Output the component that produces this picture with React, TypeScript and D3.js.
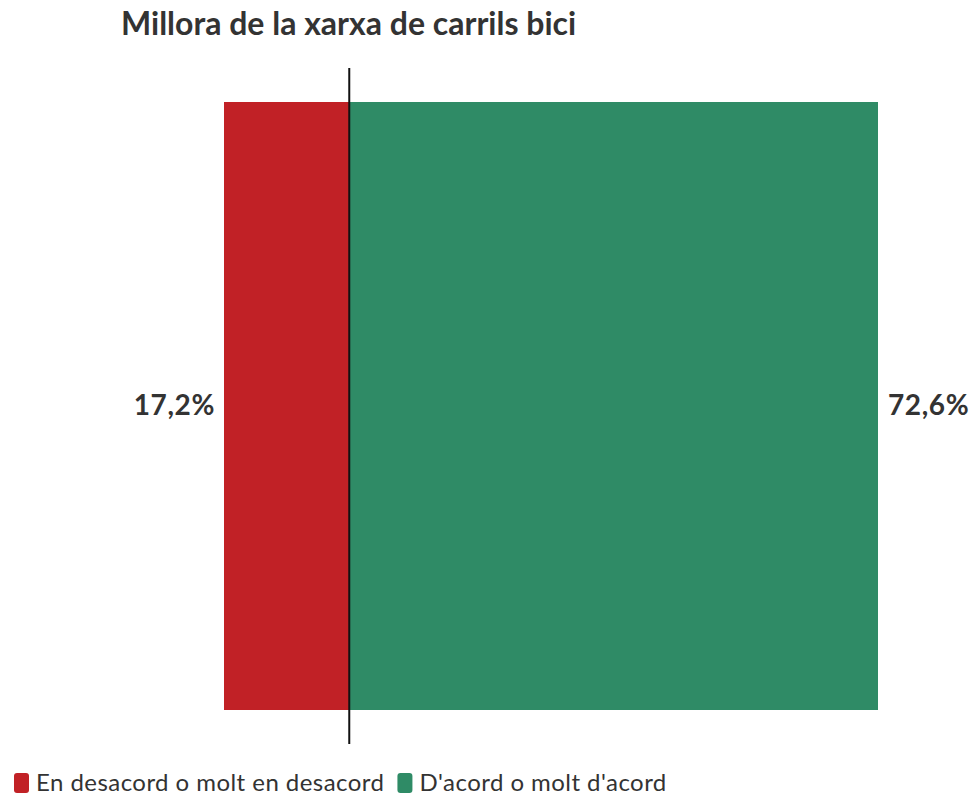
import * as d3 from 'd3';
import { useEffect, useRef } from 'react';

const title = 'Millora de la xarxa de carrils bici';
const categories = ['En desacord o molt en desacord', "D'acord o molt d'acord"];
const values = [17.2, 72.6];
const colors = ['#c12126', '#2f8b66'];

const fmt = (v: number) => v.toFixed(1).replace('.', ',') + '%';

export default function App() {
  const svgRef = useRef<SVGSVGElement>(null);

  useEffect(() => {
    const font = 'Lato, "Noto Sans", sans-serif';

    const svg = d3.select(svgRef.current);
    svg.selectAll('*').remove();

    const x = d3.scaleLinear().domain([-values[0], values[1]]).range([224, 878]);
    const y = d3.scaleBand().domain(['q']).range([102, 710]).padding(0);

    svg
      .append('text')
      .attr('x', 121)
      .attr('y', 35)
      .attr('font-family', font)
      .attr('font-weight', 700)
      .attr('font-size', 32)
      .attr('fill', '#333')
      .text(title);

    const bars = [
      { name: categories[0], x0: -values[0], x1: 0, v: values[0], c: colors[0] },
      { name: categories[1], x0: 0, x1: values[1], v: values[1], c: colors[1] },
    ];

    svg
      .selectAll('.bar')
      .data(bars)
      .enter()
      .append('rect')
      .attr('class', 'bar')
      .attr('x', (d) => x(d.x0))
      .attr('width', (d) => x(d.x1) - x(d.x0))
      .attr('y', y('q') as number)
      .attr('height', y.bandwidth())
      .attr('fill', (d) => d.c);

    const midY = (y('q') as number) + y.bandwidth() / 2;

    svg
      .selectAll('.lbl')
      .data(bars)
      .enter()
      .append('text')
      .attr('class', 'lbl')
      .attr('x', (d, i) => (i === 0 ? x(d.x0) - 9 : x(d.x1) + 10))
      .attr('y', midY - 1)
      .attr('dy', '0.35em')
      .attr('text-anchor', (d, i) => (i === 0 ? 'end' : 'start'))
      .attr('font-family', font)
      .attr('font-weight', 700)
      .attr('font-size', 28)
      .attr('letter-spacing', 0.6)
      .attr('fill', '#333')
      .text((d) => fmt(d.v));

    svg
      .append('line')
      .attr('x1', x(0))
      .attr('x2', x(0))
      .attr('y1', 68)
      .attr('y2', 744)
      .attr('stroke', '#111')
      .attr('stroke-width', 2);

    // legend
    const legend = svg.append('g').attr('transform', 'translate(0,783)');
    let lx = 14;
    bars.forEach((d) => {
      legend
        .append('rect')
        .attr('x', lx)
        .attr('y', -10)
        .attr('width', 15)
        .attr('height', 20)
        .attr('rx', 3)
        .attr('fill', d.c);
      const t = legend
        .append('text')
        .attr('x', lx + 22)
        .attr('y', 0)
        .attr('dy', '0.35em')
        .attr('font-family', font)
        .attr('font-size', 24)
        .attr('letter-spacing', 0.45)
        .attr('fill', '#333')
        .text(d.name);
      const w = (t.node() as SVGTextElement).getComputedTextLength();
      lx = lx + 22 + w + 13;
    });
  }, []);

  return (
    <svg
      ref={svgRef}
      width={972}
      height={798}
      style={{ position: 'absolute', left: 0, top: 0, background: '#fff' }}
    />
  );
}
